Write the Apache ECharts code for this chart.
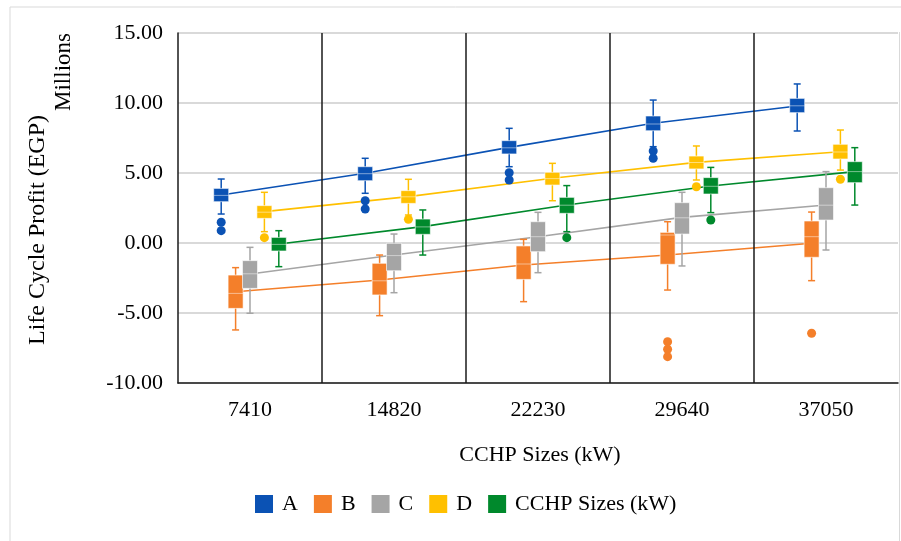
<!doctype html>
<html>
<head>
    <meta charset="utf-8">
    <script src="https://cdn.jsdelivr.net/npm/echarts@6/dist/echarts.min.js"></script>
</head>
<body style="width: 100%; height: 100%; margin: 0; background: #fff">
    <div id="container" style="width: 901px; height: 541px"></div>
    <script type="text/javascript">
        // categories and series
        var cats = ['7410', '14820', '22230', '29640', '37050'];
        var names = ['A', 'B', 'C', 'D', 'CCHP Sizes (kW)'];
        var colors = ['#0B52B4', '#F47F2A', '#A5A5A5', '#FFC000', '#00892C'];

        // boxes per category: [low whisker, q1, median, q3, high whisker]
        var boxA = [[2.07, 2.95, 3.4, 3.9, 4.57], [3.55, 4.45, 4.95, 5.45, 6.05], [5.45, 6.36, 6.8, 7.31, 8.19], [6.88, 8.02, 8.5, 9.07, 10.21], [8.0, 9.31, 9.8, 10.33, 11.36]];
        var boxB = [[-6.21, -4.67, -3.6, -2.29, -1.76], [-5.19, -3.71, -2.7, -1.45, -0.86], [-4.19, -2.6, -1.5, -0.21, 0.26], [-3.36, -1.52, 0.57, 0.76, 1.52], [-2.69, -1.02, 0.45, 1.57, 2.21]];
        var boxC = [[-5.02, -3.24, -2.2, -1.26, -0.31], [-3.55, -1.98, -0.9, -0.02, 0.64], [-2.12, -0.62, 0.45, 1.52, 2.19], [-1.64, 0.64, 1.8, 2.88, 3.62], [-0.5, 1.64, 2.7, 3.95, 5.1]];
        var boxD = [[0.81, 1.76, 2.2, 2.67, 3.62], [2.0, 2.83, 3.3, 3.74, 4.55], [3.02, 4.14, 4.6, 5.05, 5.69], [4.5, 5.29, 5.75, 6.21, 6.93], [5.21, 6.0, 6.5, 7.05, 8.07]];
        var boxE = [[-1.69, -0.57, -0.1, 0.4, 0.88], [-0.86, 0.62, 1.15, 1.71, 2.36], [0.81, 2.12, 2.7, 3.26, 4.1], [2.17, 3.5, 4.05, 4.67, 5.4], [2.71, 4.31, 5.1, 5.81, 6.81]];

        // means (connected by the mean lines)
        var meanA = [3.43, 4.98, 6.83, 8.55, 9.79];
        var meanB = [-3.48, -2.64, -1.57, -0.86, -0.02];
        var meanC = [-2.21, -0.86, 0.45, 1.83, 2.71];
        var meanD = [2.24, 3.31, 4.62, 5.76, 6.52];
        var meanE = [-0.07, 1.17, 2.71, 4.07, 5.1];

        // outliers: [category index, value]
        var outA = [[0, 1.48], [0, 0.88], [1, 3.02], [1, 2.43], [2, 5.02], [2, 4.5], [3, 6.57], [3, 6.05]];
        var outB = [[3, -7.05], [3, -7.59], [3, -8.12], [4, -6.45]];
        var outC = [];
        var outD = [[0, 0.38], [1, 1.69], [3, 4.02], [4, 4.55]];
        var outE = [[2, 0.38], [3, 1.64]];

        var yTicks = [-10, -5, 0, 5, 10, 15];

        var boxes = [boxA, boxB, boxC, boxD, boxE];
        var means = [meanA, meanB, meanC, meanD, meanE];
        var outs = [outA, outB, outC, outD, outE];

        var FONT = '"Liberation Serif", "Times New Roman", serif';

        function xpos(ci, si) {
            return ci + 0.5 + (si - 2) * 0.1;
        }

        function renderBox(params, api) {
            var x = api.value(0);
            var lo = api.coord([x, api.value(1)]);
            var q1 = api.coord([x, api.value(2)]);
            var md = api.coord([x, api.value(3)]);
            var q3 = api.coord([x, api.value(4)]);
            var hi = api.coord([x, api.value(5)]);
            var color = api.visual('color');
            var cx = lo[0], w = 15, cap = 3.5;
            var ls = { stroke: color, lineWidth: 1.5 };
            return {
                type: 'group',
                children: [
                    { type: 'line', shape: { x1: cx, y1: hi[1], x2: cx, y2: lo[1] }, style: ls },
                    { type: 'line', shape: { x1: cx - cap, y1: hi[1], x2: cx + cap, y2: hi[1] }, style: ls },
                    { type: 'line', shape: { x1: cx - cap, y1: lo[1], x2: cx + cap, y2: lo[1] }, style: ls },
                    { type: 'rect', shape: { x: cx - w / 2, y: q3[1], width: w, height: q1[1] - q3[1] },
                      style: { fill: color, stroke: '#ffffff', lineWidth: 0.6 } },
                    { type: 'line', shape: { x1: cx - w / 2, y1: md[1], x2: cx + w / 2, y2: md[1] },
                      style: { stroke: 'rgba(255,255,255,0.6)', lineWidth: 0.8 } }
                ]
            };
        }

        var series = [];
        names.forEach(function (n, si) {
            series.push({
                name: n + ' mean',
                type: 'line',
                data: means[si].map(function (v, ci) { return [xpos(ci, si), v]; }),
                symbol: 'none',
                lineStyle: { color: colors[si], width: 1.6 },
                z: 2,
                silent: true
            });
        });
        names.forEach(function (n, si) {
            series.push({
                name: n,
                type: 'custom',
                renderItem: renderBox,
                itemStyle: { color: colors[si] },
                encode: { x: 0, y: [1, 2, 3, 4, 5] },
                data: boxes[si].map(function (b, ci) { return [xpos(ci, si)].concat(b); }),
                z: 3
            });
            series.push({
                name: n,
                type: 'scatter',
                symbolSize: 9,
                itemStyle: { color: colors[si], opacity: 1 },
                data: outs[si].map(function (o) { return [xpos(o[0], si), o[1]]; }),
                z: 3
            });
        });
        // black separators between categories
        series.push({
            name: 'sep',
            type: 'line',
            data: [],
            markLine: {
                silent: true,
                symbol: 'none',
                label: { show: false },
                lineStyle: { color: '#1a1a1a', width: 1.5, type: 'solid' },
                data: [{ xAxis: 1 }, { xAxis: 2 }, { xAxis: 3 }, { xAxis: 4 }]
            }
        });

        var myChart = echarts.init(document.getElementById('container'));
        var option = {
            animation: false,
            backgroundColor: '#ffffff',
            grid: { left: 178, right: 2, top: 33, bottom: 158 },
            xAxis: {
                type: 'value',
                min: 0,
                max: 5,
                interval: 0.5,
                axisLine: { show: true, onZero: false, lineStyle: { color: '#1a1a1a', width: 1.5 } },
                axisTick: { show: false },
                splitLine: { show: false },
                axisLabel: {
                    margin: 16,
                    fontFamily: FONT,
                    fontSize: 22,
                    color: '#000',
                    formatter: function (v) {
                        var i = v - 0.5;
                        return (Math.abs(i - Math.round(i)) < 1e-6 && cats[Math.round(i)]) ? cats[Math.round(i)] : '';
                    }
                }
            },
            yAxis: {
                type: 'value',
                min: yTicks[0],
                max: yTicks[yTicks.length - 1],
                interval: 5,
                axisLine: { show: true, onZero: false, lineStyle: { color: '#1a1a1a', width: 1.5 } },
                axisTick: { show: false },
                splitLine: { show: true, lineStyle: { color: '#d9d9d9', width: 2 } },
                axisLabel: {
                    margin: 15,
                    fontFamily: FONT,
                    fontSize: 22,
                    color: '#000',
                    formatter: function (v) { return v.toFixed(2); }
                }
            },
            legend: {
                data: names,
                bottom: 21,
                left: 250,
                icon: 'rect',
                itemWidth: 18,
                itemHeight: 18,
                itemGap: 16,
                textStyle: { fontFamily: FONT, fontSize: 22, color: '#000', padding: [0, 0, 0, 4] }
            },
            graphic: [
                { type: 'line', shape: { x1: 10, y1: 7, x2: 901, y2: 7 }, style: { stroke: '#d9d9d9', lineWidth: 1 } },
                { type: 'line', shape: { x1: 10, y1: 7, x2: 10, y2: 541 }, style: { stroke: '#d9d9d9', lineWidth: 1 } },
                { type: 'line', shape: { x1: 899.5, y1: 32, x2: 899.5, y2: 541 }, style: { stroke: '#d9d9d9', lineWidth: 1 } },
                { type: 'text', x: 38, y: 230, rotation: Math.PI / 2,
                  style: { text: 'Life Cycle Profit (EGP)', font: '24px ' + FONT, fill: '#000', textAlign: 'center', textVerticalAlign: 'middle' } },
                { type: 'text', x: 64, y: 72, rotation: Math.PI / 2,
                  style: { text: 'Millions', font: '23px ' + FONT, fill: '#000', textAlign: 'center', textVerticalAlign: 'middle' } },
                { type: 'text', x: 540, y: 455,
                  style: { text: 'CCHP Sizes (kW)', font: '22px ' + FONT, fill: '#000', textAlign: 'center', textVerticalAlign: 'middle' } }
            ],
            series: series
        };
        myChart.setOption(option, true);
    </script>
</body>
</html>
